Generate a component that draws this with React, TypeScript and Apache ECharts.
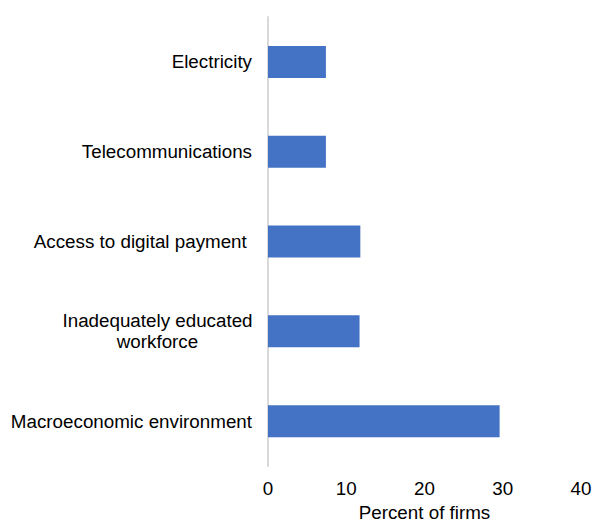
import React, { useEffect, useRef } from "react";
import * as echarts from "echarts";

const categories = [
  "Electricity",
  "Telecommunications",
  "Access to digital payment ",
  "Inadequately educated workforce",
  "Macroeconomic environment",
];
const values = [7.4, 7.4, 11.8, 11.7, 29.6];
const xTicks = [0, 10, 20, 30, 40];

export default function App() {
  const ref = useRef<HTMLDivElement>(null);
  useEffect(() => {
    if (!ref.current) return;
    const chart = echarts.init(ref.current, undefined, { renderer: "svg" });
    const font = "'Liberation Sans', Arial, sans-serif";
    const fs = 18.8;
    chart.setOption({
      animation: false,
      textStyle: { fontFamily: font },
      grid: { left: 268, right: 21, top: 17, bottom: 55, containLabel: false },
      xAxis: {
        type: "value",
        min: xTicks[0],
        max: xTicks[xTicks.length - 1],
        interval: 10,
        axisLine: { show: false },
        axisTick: { show: false },
        splitLine: { show: false },
        axisLabel: { fontSize: fs, color: "#000", margin: 13, fontFamily: font },
        name: "Percent of firms",
        nameLocation: "middle",
        nameGap: 33,
        nameTextStyle: { fontSize: fs, color: "#000", fontFamily: font },
      },
      yAxis: {
        type: "category",
        data: categories,
        inverse: true,
        axisLine: { show: true, lineStyle: { color: "#d9d9d9", width: 2 } },
        axisTick: { show: false },
        axisLabel: {
          fontSize: fs,
          color: "#000",
          margin: 16,
          fontFamily: font,
          formatter: (v: string) =>
            v === "Inadequately educated workforce"
              ? "{c|Inadequately educated}\n{c|workforce}"
              : v,
          rich: {
            c: {
              width: 189,
              align: "center",
              fontSize: fs,
              color: "#000",
              fontFamily: font,
              lineHeight: 21,
            },
          },
        },
      },
      series: [
        {
          type: "bar",
          data: values,
          barWidth: 32,
          itemStyle: { color: "#4472C4" },
        },
      ],
    });
    return () => chart.dispose();
  }, []);
  return <div ref={ref} style={{ width: 602, height: 527, position: "absolute", left: 0, top: 0 }} />;
}
